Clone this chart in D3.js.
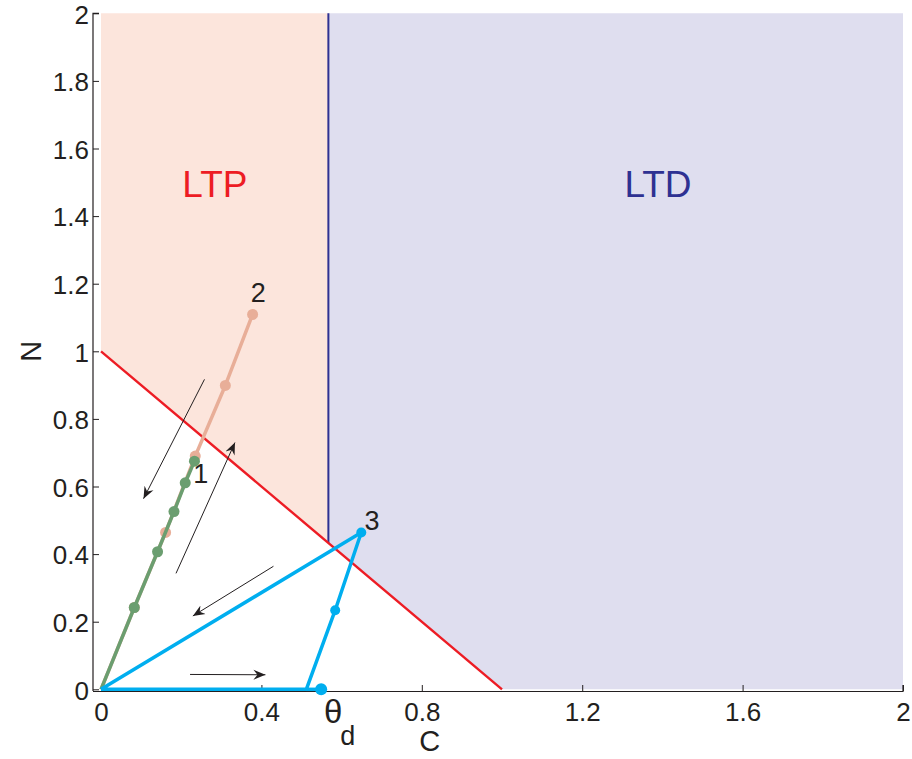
<!DOCTYPE html>
<html>
<head>
<meta charset="utf-8">
<script src="https://cdn.jsdelivr.net/npm/d3@7"></script>
<style>
body { margin: 0; background: #fff; }
text { font-family: "Liberation Sans", Arial, sans-serif; fill: #231f20; }
</style>
</head>
<body>
<div id="chart"></div>
<script>
// threshold and boundary line N = 1 - C
var thetaD = 0.567;
var boundary = [[0, 1], [1, 0]];

var xTicks = [0, 0.4, 0.8, 1.2, 1.6, 2];
var xTickLabels = ["0", "0.4", "0.8", "1.2", "1.6", "2"];
var yTicks = [0, 0.2, 0.4, 0.6, 0.8, 1, 1.2, 1.4, 1.6, 1.8, 2];
var yTickLabels = ["0", "0.2", "0.4", "0.6", "0.8", "1", "1.2", "1.4", "1.6", "1.8", "2"];

// trajectory 2 (pink)
var traj2C = [0, 0.083, 0.161, 0.235, 0.310, 0.378];
var traj2N = [0, 0.242, 0.464, 0.690, 0.899, 1.109];
// trajectory 1 (green)
var traj1C = [0, 0.083, 0.141, 0.182, 0.210, 0.233];
var traj1N = [0, 0.242, 0.407, 0.526, 0.611, 0.675];
// trajectory 3 (blue)
var traj3C = [0, 0.512, 0.584, 0.649, 0];
var traj3N = [0, 0, 0.234, 0.464, 0];
var traj3DotsC = [0.584, 0.649];
var traj3DotsN = [0.234, 0.464];
var traj3StartC = [0.512, 0.549];
var traj3StartN = [0, 0];

// arrows: [C0, N0, C1, N1]
var arrows = [
  [0.258, 0.917, 0.106, 0.564],
  [0.187, 0.343, 0.334, 0.730],
  [0.430, 0.364, 0.229, 0.217],
  [0.222, 0.044, 0.410, 0.043]
];

var width = 912, height = 759;
var svg = d3.select("#chart").append("svg")
  .attr("width", width).attr("height", height);

var x = d3.scaleLinear().domain([-0.02, 2]).range([93, 903]);
var y = d3.scaleLinear().domain([-0.005, 2]).range([691, 13.3]);

// regions
svg.append("path")
  .attr("d", d3.line()([[x(0), y(2)], [x(0), y(1)], [x(thetaD), y(1 - thetaD)], [x(thetaD), y(2)]]))
  .attr("fill", "#fce5dc");
svg.append("path")
  .attr("d", d3.line()([[x(thetaD), y(2)], [x(thetaD), y(1 - thetaD)], [x(1), y(0)], [x(2), y(0)], [x(2), y(2)]]))
  .attr("fill", "#dfdeef");

svg.append("line")
  .attr("x1", x(thetaD)).attr("x2", x(thetaD))
  .attr("y1", y(2)).attr("y2", y(1 - thetaD))
  .attr("stroke", "#2e3192").attr("stroke-width", 2);

svg.append("path")
  .attr("d", d3.line().x(d => x(d[0])).y(d => y(d[1]))(boundary))
  .attr("stroke", "#ed1c24").attr("stroke-width", 2.4).attr("fill", "none");

svg.append("text").attr("x", x(0.284)).attr("y", y(1.457))
  .attr("text-anchor", "middle").style("font-size", "37px").style("fill", "#ed1c24").text("LTP");
svg.append("text").attr("x", x(1.389)).attr("y", y(1.457))
  .attr("text-anchor", "middle").style("font-size", "37px").style("fill", "#2e3192").text("LTD");

// axes
var yAxis = svg.append("g").attr("transform", "translate(93,0)")
  .call(d3.axisLeft(y).tickValues(yTicks).tickSize(-6).tickPadding(4)
    .tickFormat((d, i) => yTickLabels[i]));
var xAxis = svg.append("g").attr("transform", "translate(0,691)")
  .call(d3.axisBottom(x).tickValues(xTicks).tickSize(-6).tickPadding(12)
    .tickFormat((d, i) => xTickLabels[i]));
[xAxis, yAxis].forEach(function (g) {
  g.select(".domain").attr("stroke", "#231f20").attr("stroke-width", 1.2);
  g.selectAll(".tick line").attr("stroke", "#231f20");
  g.selectAll(".tick text").style("font-size", "26px").attr("font-family", null);
});
yAxis.selectAll(".tick text").attr("dy", "0.38em");
xAxis.select(".domain").attr("d", "M93,0.5H903V-6");
yAxis.select(".domain").attr("d", "M0,691V13.3H6");

svg.append("text").attr("x", 324).attr("y", 723)
  .style("font-size", "33px")
  .text("θ").append("tspan").attr("dx", -2).attr("dy", 22).style("font-size", "27px").text("d");

svg.append("text").attr("x", x(0.82)).attr("y", 751)
  .attr("text-anchor", "middle").style("font-size", "29px").text("C");
svg.append("text").attr("transform", "translate(41," + y(1) + ") rotate(-90)")
  .attr("text-anchor", "middle").style("font-size", "29px").text("N");

// trajectories
var line = d3.line().x(d => x(d[0])).y(d => y(d[1]));
function drawTraj(cs, ns, color, r, dots) {
  var pts = cs.map((c, i) => [c, ns[i]]);
  svg.append("path").attr("d", line(pts))
    .attr("stroke", color).attr("stroke-width", 3.5).attr("fill", "none")
    .attr("stroke-linejoin", "round");
  svg.selectAll(null).data(dots ? pts.slice(1) : []).enter().append("circle")
    .attr("cx", d => x(d[0])).attr("cy", d => y(d[1])).attr("r", r).attr("fill", color);
}
drawTraj(traj2C, traj2N, "#e8ae98", 5.5, true);
drawTraj(traj1C, traj1N, "#6b9e70", 5.5, true);
drawTraj(traj3C, traj3N, "#00aeef", 5, false);
drawTraj(traj3StartC, traj3StartN, "#00aeef", 0, false);
svg.selectAll(null).data(traj3DotsC).enter().append("circle")
  .attr("cx", d => x(d)).attr("cy", (d, i) => y(traj3DotsN[i])).attr("r", 5).attr("fill", "#00aeef");
svg.append("circle").attr("cx", x(traj3StartC[1])).attr("cy", y(traj3StartN[1]))
  .attr("r", 6).attr("fill", "#00aeef");

svg.append("text").attr("x", x(0.392)).attr("y", y(1.146)).attr("text-anchor", "middle")
  .style("font-size", "27px").text("2");
svg.append("text").attr("x", x(0.249)).attr("y", y(0.610)).attr("text-anchor", "middle")
  .style("font-size", "27px").text("1");
svg.append("text").attr("x", x(0.676)).attr("y", y(0.471)).attr("text-anchor", "middle")
  .style("font-size", "27px").text("3");

// arrows
svg.append("defs").append("marker")
  .attr("id", "head").attr("viewBox", "-12 -6 14 12")
  .attr("refX", 0).attr("refY", 0)
  .attr("markerWidth", 14).attr("markerHeight", 12)
  .attr("markerUnits", "userSpaceOnUse").attr("orient", "auto")
  .append("path").attr("d", "M0,0L-12,-5L-8,0L-12,5Z").attr("fill", "#231f20");

svg.selectAll(null).data(arrows).enter().append("line")
  .attr("x1", d => x(d[0])).attr("y1", d => y(d[1]))
  .attr("x2", d => x(d[2])).attr("y2", d => y(d[3]))
  .attr("stroke", "#231f20").attr("stroke-width", 1)
  .attr("marker-end", "url(#head)");
</script>
</body>
</html>
